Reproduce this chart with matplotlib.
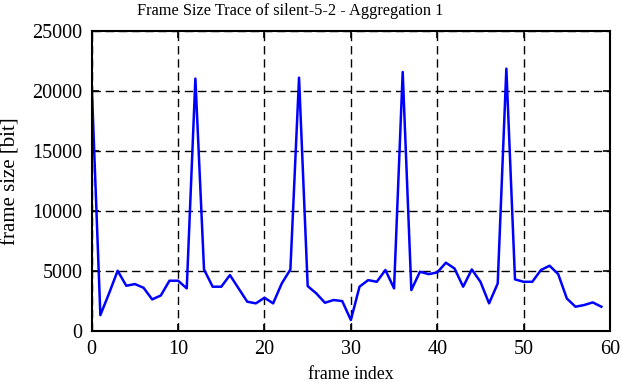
import matplotlib
matplotlib.use('Agg')
import matplotlib.pyplot as plt

plt.rcParams['font.family'] = ['Liberation Serif', 'DejaVu Serif']
plt.rcParams['font.size'] = 14.5

# frame sizes in bit
frame_size = [20500, 1300, 3100, 5000, 3750, 3890, 3580, 2610, 2940, 4170,
              4170, 3530, 21030, 5110, 3670, 3670, 4640, 3530, 2420, 2280,
              2750, 2280, 3940, 5110, 21110, 3720, 3110, 2330, 2560, 2470,
              890, 3670, 4220, 4080, 5060, 3530, 21580, 3390, 4920, 4720,
              4860, 5670, 5190, 3670, 5110, 4080, 2280, 3940, 21860, 4280,
              4080, 4080, 5060, 5420, 4720, 2690, 2000, 2140, 2360, 2000]
frame_index = list(range(len(frame_size)))

x_ticks = [0, 10, 20, 30, 40, 50, 60]
y_ticks = [0, 5000, 10000, 15000, 20000, 25000]

fig = plt.figure(figsize=(6.21, 3.82), dpi=100)
ax = fig.add_axes([0.1477, 0.1343, 0.8346, 0.7845])

ax.plot(frame_index, frame_size, color='#0000ff', linewidth=1.8)

ax.set_xlim(0, 60)
ax.set_ylim(0, 25000)
ax.set_xticks(x_ticks)
ax.set_yticks(y_ticks)
ax.grid(True, color='black', linestyle=(0, (6, 3.5)), linewidth=1.0)
ax.tick_params(direction='in', top=True, right=True, length=5, width=1.2,
               pad=6.5, labelsize=14.5)
for s in ax.spines.values():
    s.set_linewidth(1.5)

ax.set_xlabel('frame index', fontsize=12.75, labelpad=5)
ax.set_ylabel('frame size [bit]', fontsize=15, labelpad=9)
# title sits centred on the figure rather than the axes
fig.text(0.467, 0.9607, 'Frame Size Trace of silent-5-2 - Aggregation 1',
         fontsize=11.8, ha='center', va='baseline')

plt.savefig('out.png', dpi=100)
